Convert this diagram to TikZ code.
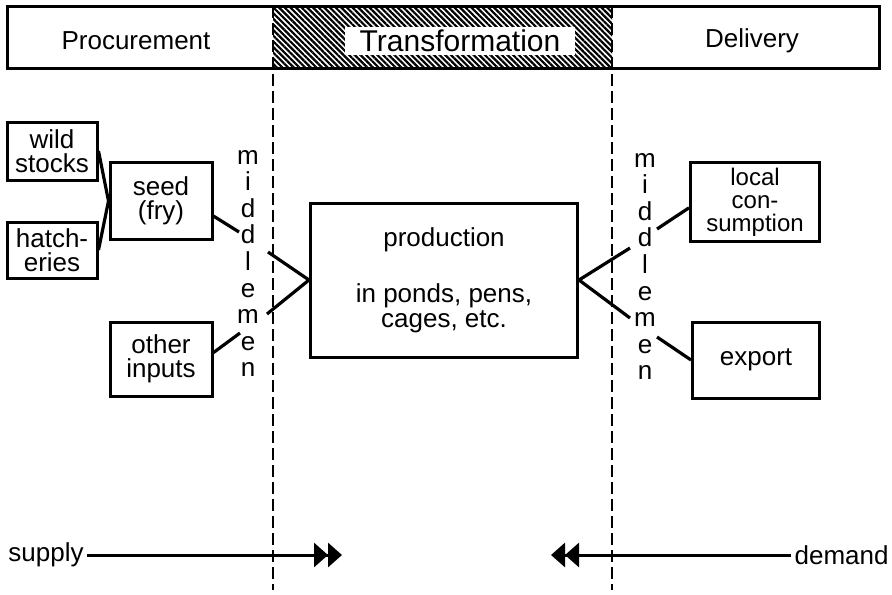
\documentclass[tikz,border=0pt]{standalone}
\usepackage{fontspec}
\setmainfont{Liberation Sans}
\usetikzlibrary{arrows.meta,patterns.meta}

\begin{document}
\begin{tikzpicture}[x=0.5pt, y=-0.5pt,
    font=\fontsize{13}{12.2}\selectfont,
    box/.style={draw, line width=1.5pt, inner sep=0pt, align=center},
    link/.style={line width=1.6pt},
    divider/.style={line width=1.3pt, dash pattern=on 6pt off 2.5pt},
    flow/.style={line width=1.5pt, -{Triangle[length=7pt,width=12pt]Triangle[length=7pt,width=12pt,sep=-2pt]}}]
    \useasboundingbox (0,0) rectangle (892,594);

    % header band
    \fill[pattern={Lines[angle=-45,distance=2pt,line width=1.1pt]}] (273,6) rectangle (612,68);
    \draw[line width=1.5pt] (7,6) rectangle (879,68);
    \draw[divider] (273,6) -- (273,590);
    \draw[divider] (612,6) -- (612,590);
    \node (proc) at (136,41) {Procurement};
    \node [fill=white, inner sep=0pt, minimum width=115pt, minimum height=14pt,
        font=\fontsize{15}{15}\selectfont] (trans) at (460,41) {Transformation};
    \node (deliv) at (752,41) {Delivery};

    % boxes
    \node [box, minimum width=45pt, minimum height=29pt] (wild) at (52,151) {wild\\stocks};
    \node [box, minimum width=45pt, minimum height=28pt] (hatch) at (52,250) {hatch-\\eries};
    \node [box, minimum width=51pt, minimum height=38.5pt] (seed) at (161,201) {seed\\(fry)};
    \node [box, minimum width=51pt, minimum height=37pt] (other) at (161,359) {other\\inputs};
    \node [box, minimum width=133.5pt, minimum height=77pt] (prod) at (444,280)
        {production\\[16pt]in ponds, pens,\\cages, etc.};
    \node [box, minimum width=64.5pt, minimum height=39.5pt,
        font=\fontsize{12}{11.5}\selectfont] (local) at (755,202) {local\\con-\\sumption};
    \node [box, minimum width=63.5pt, minimum height=38pt] (export) at (756,360) {export};

    % middlemen
    \foreach \ch [count=\i] in {m,i,d,d,l,e,m,e,n} {
        \node [anchor=base] (lm\i) at (248,{164+26.6*(\i-1)}) {\ch};
        \node [anchor=base] (rm\i) at (645,{167+26.6*(\i-1)}) {\ch};
    }

    % links
    \draw[link] (wild.east) -- (seed.west);
    \draw[link] (hatch.east) -- (seed.west);
    \coordinate (ls) at (239,232);
    \coordinate (lo) at (240,333);
    \draw[link] (seed.-16) -- (ls);
    \draw[link] (other.7) -- (lo);
    \coordinate (lp1) at (268,252);
    \coordinate (lp2) at (267,314);
    \draw[link] (lp1) -- (prod.west) -- (lp2);
    \coordinate (rp1) at (630,248);
    \coordinate (rp2) at (630,318);
    \draw[link] (rp1) -- (prod.east) -- (rp2);
    \coordinate (rl) at (657,229);
    \coordinate (re) at (657,337);
    \draw[link] (rl) -- (local.185);
    \draw[link] (re) -- (export.west);

    % supply and demand
    \node [anchor=west, inner xsep=1.5pt] (supply) at (5,555) {supply};
    \coordinate (supplyhead) at (338,555);
    \draw[flow] (supply) -- (supplyhead);
    \node [anchor=east, inner xsep=1.5pt] (demand) at (892,555) {demand};
    \coordinate (demandhead) at (555,555);
    \draw[flow] (demand) -- (demandhead);
\end{tikzpicture}
\end{document}
